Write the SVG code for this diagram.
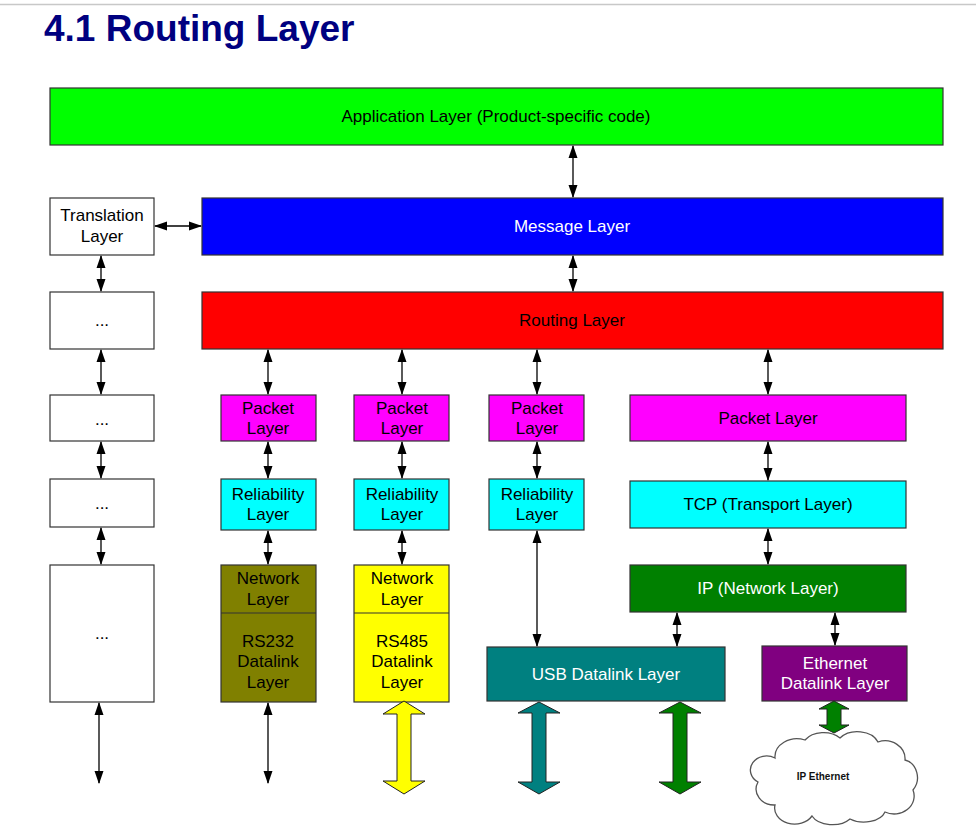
<svg xmlns="http://www.w3.org/2000/svg" width="976" height="833" viewBox="0 0 976 833">
<defs>
<marker id="ah" markerUnits="userSpaceOnUse" markerWidth="14" markerHeight="10" refX="12" refY="4.5" orient="auto-start-reverse" viewBox="0 0 14 9">
<path d="M0,0 L13,4.5 L0,9 z" fill="#000"/>
</marker>
<style>
.box{stroke:#333;stroke-width:1.2}
.t{font-family:"Liberation Sans",Arial,sans-serif;font-size:17px;text-anchor:middle;fill:#000}
.w{fill:#fff}
.c{stroke:#000;stroke-width:1.3;fill:none;marker-start:url(#ah);marker-end:url(#ah)}
.ba{stroke:#222;stroke-width:1}
</style>
</defs>
<rect width="976" height="833" fill="#fff"/>
<line x1="0" y1="4.5" x2="976" y2="4.5" stroke="#c8c8c8" stroke-width="1.5"/>
<text x="44" y="41" font-family="'Liberation Sans',Arial,sans-serif" font-size="37" font-weight="bold" fill="#000080">4.1 Routing Layer</text>

<g id="app"><rect class="box" x="50" y="88" width="893" height="57" fill="#00ff00"/><text class="t" x="496" y="122">Application Layer (Product-specific code)</text></g>
<g id="translation"><rect class="box" x="50" y="198" width="104" height="57" fill="#fff"/><text class="t" x="102" y="221">Translation</text><text class="t" x="102" y="242">Layer</text></g>
<g id="message"><rect class="box" x="202" y="198" width="741" height="57" fill="#0000ff"/><text class="t w" x="572" y="232">Message Layer</text></g>
<g id="dots1"><rect class="box" x="50" y="292" width="104" height="57" fill="#fff"/><text class="t" x="102" y="326">...</text></g>
<g id="routing"><rect class="box" x="202" y="292" width="741" height="57" fill="#ff0000"/><text class="t" x="572" y="326">Routing Layer</text></g>
<g id="dots2"><rect class="box" x="50" y="395" width="104" height="46" fill="#fff"/><text class="t" x="102" y="425">...</text></g>
<g id="dots3"><rect class="box" x="50" y="479" width="104" height="48" fill="#fff"/><text class="t" x="102" y="509">...</text></g>
<g id="dots4"><rect class="box" x="50" y="565" width="104" height="137" fill="#fff"/><text class="t" x="102" y="639">...</text></g>

<g id="packet1"><rect class="box" x="221" y="395" width="95" height="46" fill="#ff00ff"/><text class="t" x="268" y="414">Packet</text><text class="t" x="268" y="434">Layer</text></g>
<g id="packet2"><rect class="box" x="354" y="395" width="95" height="46" fill="#ff00ff"/><text class="t" x="402" y="414">Packet</text><text class="t" x="402" y="434">Layer</text></g>
<g id="packet3"><rect class="box" x="489" y="395" width="95" height="46" fill="#ff00ff"/><text class="t" x="537" y="414">Packet</text><text class="t" x="537" y="434">Layer</text></g>
<g id="packet4"><rect class="box" x="630" y="395" width="276" height="46" fill="#ff00ff"/><text class="t" x="768" y="424">Packet Layer</text></g>

<g id="rel1"><rect class="box" x="221" y="479" width="95" height="51" fill="#00ffff"/><text class="t" x="268" y="500">Reliability</text><text class="t" x="268" y="520">Layer</text></g>
<g id="rel2"><rect class="box" x="354" y="479" width="95" height="51" fill="#00ffff"/><text class="t" x="402" y="500">Reliability</text><text class="t" x="402" y="520">Layer</text></g>
<g id="rel3"><rect class="box" x="489" y="479" width="95" height="51" fill="#00ffff"/><text class="t" x="537" y="500">Reliability</text><text class="t" x="537" y="520">Layer</text></g>
<g id="tcp"><rect class="box" x="630" y="481" width="276" height="47" fill="#00ffff"/><text class="t" x="768" y="510">TCP (Transport Layer)</text></g>

<g id="rs232"><rect class="box" x="221" y="565" width="95" height="137" fill="#808000"/><line x1="221" y1="613" x2="316" y2="613" stroke="#333" stroke-width="1.2"/><text class="t" x="268" y="584">Network</text><text class="t" x="268" y="605">Layer</text><text class="t" x="268" y="647">RS232</text><text class="t" x="268" y="667">Datalink</text><text class="t" x="268" y="688">Layer</text></g>
<g id="rs485"><rect class="box" x="354" y="565" width="95" height="137" fill="#ffff00"/><line x1="354" y1="613" x2="449" y2="613" stroke="#333" stroke-width="1.2"/><text class="t" x="402" y="584">Network</text><text class="t" x="402" y="605">Layer</text><text class="t" x="402" y="647">RS485</text><text class="t" x="402" y="667">Datalink</text><text class="t" x="402" y="688">Layer</text></g>
<g id="ip"><rect class="box" x="630" y="565" width="276" height="47" fill="#008000"/><text class="t w" x="768" y="594">IP (Network Layer)</text></g>
<g id="usb"><rect class="box" x="487" y="647" width="238" height="54" fill="#008080"/><text class="t w" x="606" y="680">USB Datalink Layer</text></g>
<g id="eth"><rect class="box" x="762" y="646" width="145" height="55" fill="#800080"/><text class="t w" x="835" y="669">Ethernet</text><text class="t w" x="835" y="689">Datalink Layer</text></g>

<g id="cloud"><path d="M775,758 A22,18 0 0 1 805,740 A22,16 0 0 1 840,738 A22,16 0 0 1 878,742 A20,18 0 0 1 905,760 A16,18 0 0 1 913,790 A20,18 0 0 1 885,812 A22,14 0 0 1 850,819 A22,14 0 0 1 812,816 A20,16 0 0 1 775,805 A18,16 0 0 1 758,782 A16,14 0 0 1 775,758 Z" fill="#fff" stroke="#555" stroke-width="1.3"/><text x="823" y="780" font-family="'Liberation Sans',Arial,sans-serif" font-size="10" font-weight="bold" text-anchor="middle" fill="#111">IP Ethernet</text></g>

<g id="connectors">
<line class="c" x1="573" y1="146" x2="573" y2="197"/>
<line class="c" x1="155" y1="226" x2="201" y2="226"/>
<line class="c" x1="573" y1="256" x2="573" y2="291"/>
<line class="c" x1="101" y1="256" x2="101" y2="291"/>
<line class="c" x1="101" y1="350" x2="101" y2="394"/>
<line class="c" x1="101" y1="442" x2="101" y2="478"/>
<line class="c" x1="101" y1="528" x2="101" y2="564"/>
<line class="c" x1="99" y1="703" x2="99" y2="783"/>
<line class="c" x1="268" y1="350" x2="268" y2="394"/>
<line class="c" x1="402" y1="350" x2="402" y2="394"/>
<line class="c" x1="537" y1="350" x2="537" y2="394"/>
<line class="c" x1="768" y1="350" x2="768" y2="394"/>
<line class="c" x1="268" y1="442" x2="268" y2="478"/>
<line class="c" x1="402" y1="442" x2="402" y2="478"/>
<line class="c" x1="537" y1="442" x2="537" y2="478"/>
<line class="c" x1="768" y1="442" x2="768" y2="480"/>
<line class="c" x1="268" y1="531" x2="268" y2="564"/>
<line class="c" x1="402" y1="531" x2="402" y2="564"/>
<line class="c" x1="537" y1="531" x2="537" y2="646"/>
<line class="c" x1="768" y1="529" x2="768" y2="564"/>
<line class="c" x1="677" y1="613" x2="677" y2="646"/>
<line class="c" x1="835" y1="613" x2="835" y2="645"/>
<line class="c" x1="268" y1="703" x2="268" y2="783"/>
<polygon class="ba" fill="#ffff00" points="404,701 425,714 411,714 411,781 425,781 404,794 383,781 397,781 397,714 383,714"/>
<polygon class="ba" fill="#008080" points="539,702 560,713 546,713 546,782 560,782 539,794 518,782 532,782 532,713 518,713"/>
<polygon class="ba" fill="#008000" points="680,702 701,713 687,713 687,782 701,782 680,794 659,782 673,782 673,713 659,713"/>
<polygon class="ba" fill="#008000" points="834,701 849,709 841,709 841,725 849,725 834,733 819,725 827,725 827,709 819,709"/>
</g>
</svg>
